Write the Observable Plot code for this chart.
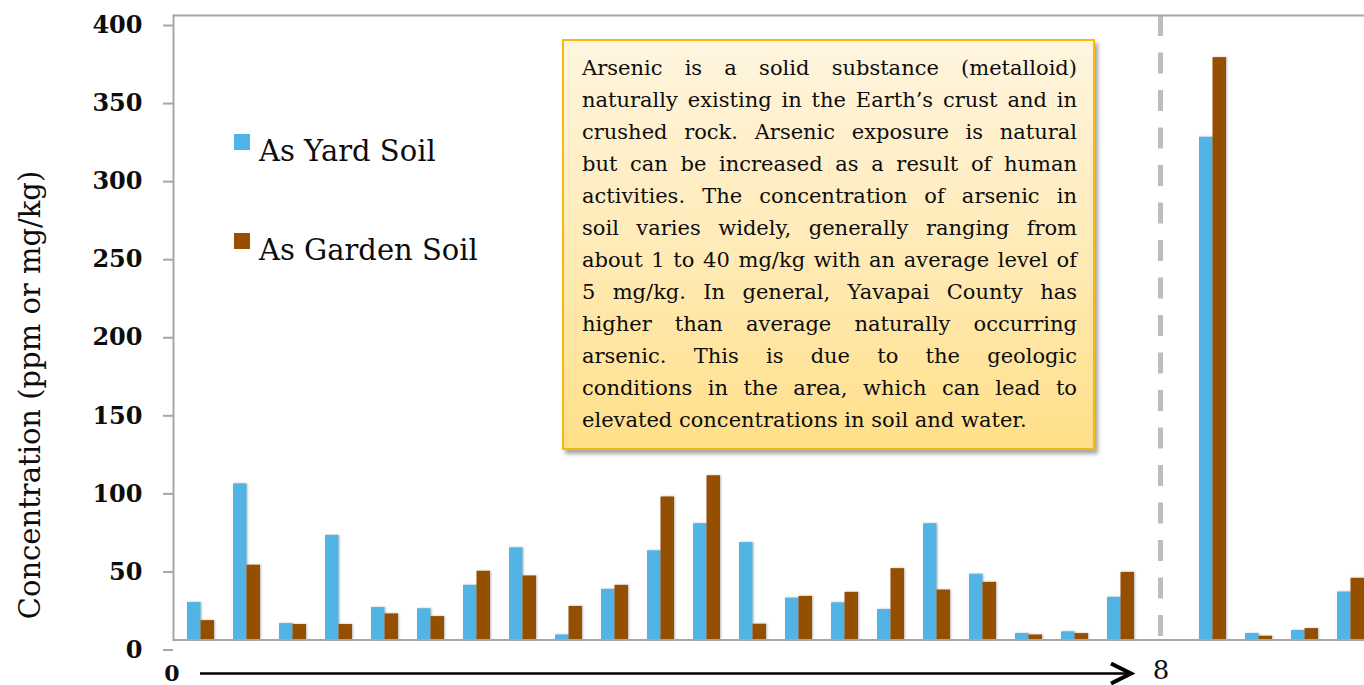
<!DOCTYPE html>
<html>
<head>
<meta charset="utf-8">
<script src="https://cdn.jsdelivr.net/npm/d3@7"></script>
<script src="https://cdn.jsdelivr.net/npm/@observablehq/plot@0.6"></script>
<style>
  html, body { margin: 0; padding: 0; background: #fff; }
  #wrap { position: relative; width: 1364px; height: 685px; overflow: hidden; font-family: "DejaVu Serif", serif; }
  #wrap svg { position: absolute; left: 0; top: 0; }
  #note {
    position: absolute; left: 562px; top: 39px; width: 533px; height: 411px;
    box-sizing: border-box; border: 2px solid #f6b90c;
    background: linear-gradient(#fff5df 0%, #ffeab4 55%, #ffdf88 100%);
    box-shadow: 3px 4px 4px rgba(0,0,0,0.35);
    padding: 11px 16px 0 18px; color: #0d0d0d;
    font-family: "DejaVu Serif", serif; font-size: 21px;
  }
  #note .ln { height: 32px; line-height: 32px; white-space: nowrap; text-align: justify; text-align-last: justify; }
  #note .ln.last { text-align: left; text-align-last: left; }
</style>
</head>
<body>
<div id="wrap"></div>
<script>
// ---- data ----
const groups = ["1","2","3","4","5","6","7","8","9","10","11","12","13","14","15","16","17","18","19","20","21","22","23","24","25","26"];
const series = ["As Yard Soil", "As Garden Soil"];
const colors = ["#52b4e4", "#954f00"];
const yardSoil   = [24, 100, 10.5, 67, 20.8, 20, 35, 59, 3.2, 32.4, 57.1, 74.5, 62.4, 26.8, 23.8, 19.5, 74.5, 42.1, 4.1, 5.2, 27.3, null, 322, 4.1, 6.1, 30.7];
const gardenSoil = [12.4, 47.9, 9.9, 9.9, 16.7, 15, 44, 41, 21.5, 35, 91.6, 105.2, 10.1, 27.9, 30.5, 45.7, 32, 36.9, 3.2, 4.1, 43.3, null, 373, 2.4, 7.3, 39.5];
const yTicks = [0, 50, 100, 150, 200, 250, 300, 350, 400];
const dividerGroup = "22";
const axisStart = "0", axisEnd = "8";
const yLabel = "Concentration (ppm or mg/kg)";
const noteLines = [
  "Arsenic is a solid substance (metalloid)",
  "naturally existing in the Earth\u2019s crust and in",
  "crushed rock. Arsenic exposure is natural",
  "but can be increased as a result of human",
  "activities. The concentration of arsenic in",
  "soil varies widely, generally ranging from",
  "about 1 to 40 mg/kg with an average level of",
  "5 mg/kg. In general, Yavapai County has",
  "higher than average naturally occurring",
  "arsenic. This is due to the geologic",
  "conditions in the area, which can lead to",
  "elevated concentrations in soil and water."
];

const rows = groups.map((g, i) => ({group: g, yard: yardSoil[i], garden: gardenSoil[i]}));

// layout
const W = 1364, H = 685, mL = 173, mR = 0, mT = 15, mB = 45.5;
const pInner = 0.415, pOuter = 0.1, align = 1;
const bw = d3.scaleBand().domain(groups).range([mL, W - mR]).paddingInner(pInner).paddingOuter(pOuter).align(align).bandwidth();
const grey = "#a6a6a6";

const chart = Plot.plot({
  width: W, height: H,
  marginLeft: mL, marginRight: mR, marginTop: mT, marginBottom: mB,
  style: {fontFamily: "DejaVu Serif", background: "transparent", overflow: "visible"},
  x: {type: "band", domain: groups, paddingInner: pInner, paddingOuter: pOuter, align: align, axis: null},
  y: {domain: [0, 400], axis: null},
  marks: [
    Plot.ruleX([dividerGroup], {x: d => d, y1: 400, y2: 0, dx: -6.5, stroke: "#bdbdbd", strokeWidth: 5, strokeDasharray: "21 16.5"}),
    Plot.barY(rows, {x: "group", y: "yard", fill: colors[0], insetRight: bw / 2}),
    Plot.barY(rows, {x: "group", y: "garden", fill: colors[1], insetLeft: bw / 2}),
    Plot.ruleY([0, 400], {stroke: grey, strokeWidth: 2}),
    Plot.frame({anchor: "left", stroke: grey, strokeWidth: 2}),
    Plot.axisY({ticks: yTicks, tickSize: 10, tickPadding: 21, color: "#0d0d0d", stroke: grey, strokeWidth: 2,
      fontSize: 24, fontWeight: "bold", dy: 10, label: null, tickFormat: d => String(d)})
  ]
});

document.getElementById("wrap").appendChild(chart);

const svg = d3.select(chart);
svg.selectAll('g[aria-label="bar"]').style("filter", "drop-shadow(1.5px 0.5px 1.2px rgba(0,0,0,0.28))");

// legend
const legendY = [134, 233];
series.forEach((s, i) => {
  svg.append("rect").attr("x", 234).attr("y", legendY[i]).attr("width", 16).attr("height", 16).attr("fill", colors[i]);
  svg.append("text").attr("x", 259).attr("y", legendY[i] + 27).attr("text-anchor", "start")
    .attr("font-size", 29).attr("fill", "#0d0d0d").text(s);
});

// y label
svg.append("text")
  .attr("transform", "translate(40,395) rotate(-90)")
  .attr("text-anchor", "middle").attr("font-size", 29).attr("fill", "#0d0d0d")
  .text(yLabel);

// bottom distance arrow 0 -> 8
const yArrow = 673.5;
svg.append("line").attr("x1", 200).attr("x2", 1129).attr("y1", yArrow).attr("y2", yArrow)
  .attr("stroke", "#000").attr("stroke-width", 2.7);
svg.append("path").attr("d", `M1111,${yArrow - 10} L1131,${yArrow} L1111,${yArrow + 10}`)
  .attr("fill", "none").attr("stroke", "#000").attr("stroke-width", 4);
svg.append("text").attr("x", 172).attr("y", 681).attr("text-anchor", "middle")
  .attr("font-size", 22).attr("font-weight", "bold").attr("fill", "#0d0d0d").text(axisStart);
svg.append("text").attr("x", 1161).attr("y", 679).attr("text-anchor", "middle")
  .attr("font-size", 26).attr("fill", "#0d0d0d").text(axisEnd);

// note box
const note = document.createElement("div");
note.id = "note";
noteLines.forEach((t, i) => {
  const d = document.createElement("div");
  d.className = "ln" + (i === noteLines.length - 1 ? " last" : "");
  d.textContent = t;
  note.appendChild(d);
});
document.getElementById("wrap").appendChild(note);
</script>
</body>
</html>
